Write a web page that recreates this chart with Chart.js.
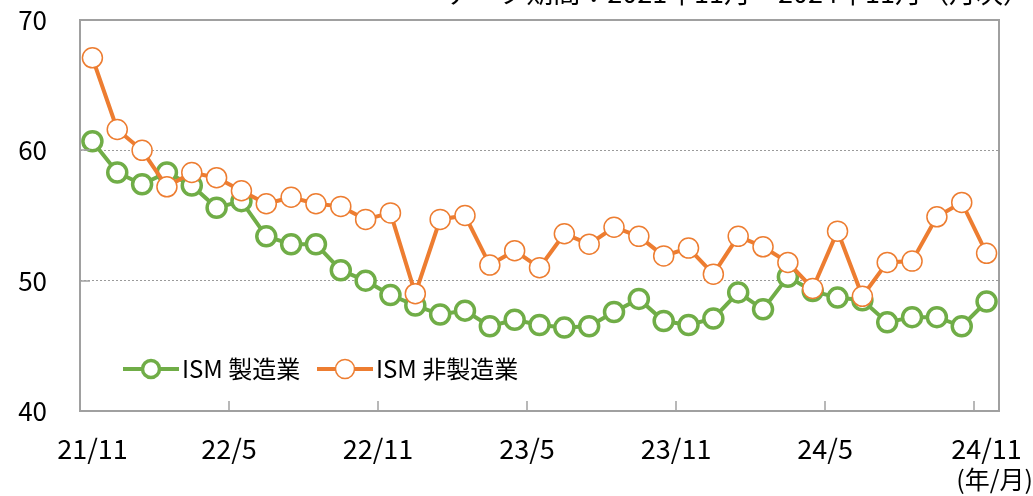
<!DOCTYPE html>
<html>
<head>
<meta charset="utf-8">
<script src="https://cdn.jsdelivr.net/npm/chart.js@4.4.1/dist/chart.umd.min.js"></script>
<style>
    body { margin: 0; background: #fff; font-family: "Noto Sans CJK JP", "Noto Sans", sans-serif; }
    #wrap { position: relative; width: 1033px; height: 496px; overflow: hidden; }
    #period { position: absolute; right: 3px; top: -22px; font-size: 27px; line-height: 27px; color: #000; white-space: nowrap; }
    #unit { position: absolute; right: 0px; top: 464px; font-size: 25px; line-height: 28px; color: #000; }
    .leg { position: absolute; top: 353px; height: 30px; font-size: 24px; line-height: 30px; color: #000; white-space: nowrap; }
    .leg svg { vertical-align: middle; margin-right: 3px; position: relative; top: -2px; }
</style>
</head>
<body>
<div id="wrap">
    <canvas id="ismChart" width="1033" height="496"></canvas>
    <div id="period">データ期間：2021年11月～2024年11月（月次）</div>
    <div id="unit">(年/月)</div>
    <div class="leg" style="left:123px">
        <svg width="56" height="26"><line x1="0" y1="13" x2="56" y2="13" stroke="#70AD47" stroke-width="4"/><circle cx="28" cy="13" r="8.5" fill="#fff" stroke="#70AD47" stroke-width="3.5"/></svg>ISM 製造業
    </div>
    <div class="leg" style="left:317px">
        <svg width="56" height="26"><line x1="0" y1="13" x2="56" y2="13" stroke="#ED7D31" stroke-width="4"/><circle cx="28" cy="13" r="9.5" fill="#fff" stroke="#ED7D31" stroke-width="1.5"/></svg>ISM 非製造業
    </div>
</div>
<script>
// 2021/11 - 2024/11, monthly
const manufacturing = [
    60.7, 58.3, 57.4, 58.3, 57.3, 55.6, 56.1, 53.4, 52.8, 52.8, 50.8, 50.0,
    48.9, 48.1, 47.4, 47.7, 46.5, 47.0, 46.6, 46.4, 46.5, 47.6, 48.6, 46.9,
    46.6, 47.1, 49.1, 47.8, 50.3, 49.2, 48.7, 48.5, 46.8, 47.2, 47.2, 46.5, 48.4
];
const services = [
    67.1, 61.6, 60.0, 57.2, 58.3, 57.9, 56.9, 55.9, 56.4, 55.9, 55.7, 54.7,
    55.2, 49.0, 54.7, 55.0, 51.2, 52.3, 51.0, 53.6, 52.8, 54.1, 53.4, 51.9,
    52.5, 50.5, 53.4, 52.6, 51.4, 49.4, 53.8, 48.8, 51.4, 51.5, 54.9, 56.0, 52.1
];
const xLabels = ['21/11', '22/5', '22/11', '23/5', '23/11', '24/5', '24/11'];
const xLabelPos = [0, 5.5, 11.5, 17.5, 23.5, 29.5, 36];
const xTickMarks = [5.5, 11.5, 17.5, 23.5, 29.5, 35.5];
const yTicks = [40, 50, 60, 70];
const yTickMarks = [50, 60];

const toPoints = arr => arr.map((v, i) => ({ x: i, y: v }));

// frame around plot area + small inner tick marks on both axes
const framePlugin = {
    id: 'frame',
    afterDatasetsDraw(chart) {
        const { ctx, chartArea: a, scales } = chart;
        ctx.save();
        ctx.strokeStyle = '#a0a0a0';
        ctx.lineWidth = 2;
        ctx.strokeRect(a.left, a.top, a.right - a.left, a.bottom - a.top);
        ctx.lineWidth = 1.5;
        xTickMarks.forEach(v => {
            const x = Math.round(scales.x.getPixelForValue(v));
            ctx.beginPath();
            ctx.moveTo(x, a.bottom);
            ctx.lineTo(x, a.bottom - 10);
            ctx.stroke();
        });
        yTickMarks.forEach(v => {
            const y = Math.round(scales.y.getPixelForValue(v));
            ctx.beginPath();
            ctx.moveTo(a.left, y);
            ctx.lineTo(a.left + 10, y);
            ctx.stroke();
        });
        ctx.restore();
    }
};

new Chart(document.getElementById('ismChart'), {
    type: 'line',
    data: {
        datasets: [{
            label: 'ISM 製造業',
            data: toPoints(manufacturing),
            borderColor: '#70AD47',
            borderWidth: 4,
            pointRadius: 9.5,
            pointBorderWidth: 3.5,
            pointBackgroundColor: '#fff',
            pointBorderColor: '#70AD47',
            order: 1
        }, {
            label: 'ISM 非製造業',
            data: toPoints(services),
            borderColor: '#ED7D31',
            borderWidth: 4,
            pointRadius: 10,
            pointBorderWidth: 1.5,
            pointBackgroundColor: '#fff',
            pointBorderColor: '#ED7D31',
            order: 0
        }]
    },
    options: {
        responsive: false,
        animation: false,
        layout: { padding: { top: 20, right: 34, left: 0, bottom: 0 } },
        plugins: { legend: { display: false }, tooltip: { enabled: false } },
        scales: {
            x: {
                type: 'linear',
                min: -0.5,
                max: 36.5,
                afterFit(scale) {
                    scale.height = 85;
                    scale.paddingLeft = 0;
                    scale.paddingRight = 0;
                },
                afterBuildTicks(scale) { scale.ticks = xLabelPos.map(v => ({ value: v })); },
                grid: { display: false },
                border: { display: false },
                ticks: {
                    autoSkip: false,
                    maxRotation: 0,
                    padding: 14,
                    color: '#000',
                    font: { family: '"Noto Sans CJK JP"', size: 27 },
                    callback: v => xLabels[xLabelPos.indexOf(v)]
                }
            },
            y: {
                min: 40,
                max: 70,
                afterFit(scale) {
                    scale.width = 80;
                    scale.paddingTop = 0;
                    scale.paddingBottom = 0;
                },
                afterBuildTicks(scale) { scale.ticks = yTicks.map(v => ({ value: v })); },
                grid: {
                    drawTicks: false,
                    color: ctx => (ctx.tick.value === 40 || ctx.tick.value === 70) ? 'rgba(0,0,0,0)' : '#9a9a9a',
                    lineWidth: 1
                },
                border: { display: false, dash: [2, 2] },
                ticks: {
                    padding: 33,
                    color: '#000',
                    font: { family: '"Noto Sans CJK JP"', size: 26 }
                }
            }
        }
    },
    plugins: [framePlugin]
});
</script>
</body>
</html>
